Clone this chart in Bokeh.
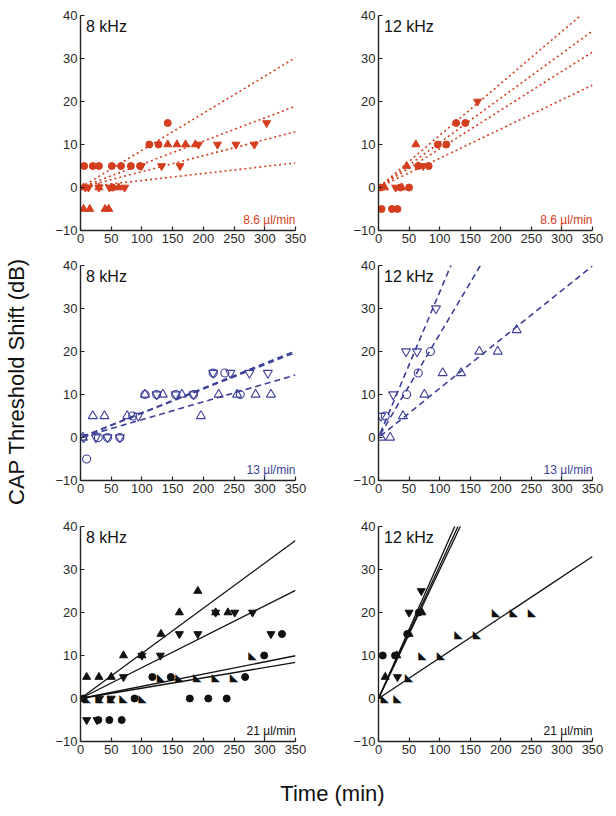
import numpy as np
from bokeh.plotting import figure
from bokeh.models import Range1d, FixedTicker, Label
from bokeh.layouts import row, column
from bokeh.embed import file_html
from bokeh.resources import INLINE
from bokeh.core.properties import value

# ---------------- data ----------------
X_TICKS = [0, 50, 100, 150, 200, 250, 300, 350]
Y_TICKS = [-10, 0, 10, 20, 30, 40]
X_LIM = (0, 350)
Y_LIM = (-10, 40)

FREQ_LEFT = "8 kHz"
FREQ_RIGHT = "12 kHz"
RATES = ["8.6 µl/min", "13 µl/min", "21 µl/min"]
X_LABEL = "Time (min)"
Y_LABEL = "CAP Threshold Shift (dB)"

# Row 1 (8.6 ul/min), 8 kHz
tl_circle_x = [6, 20, 30, 51, 66, 82, 97, 112, 127, 142, 52]
tl_circle_y = [5, 5, 5, 5, 5, 5, 5, 10, 10, 15, 0]
tl_up_x = [5, 15, 40, 46, 5, 30, 62, 142, 157, 171, 187]
tl_up_y = [-5, -5, -5, -5, 0, 0, 0, 10, 10, 10, 10]
tl_down_x = [8, 13, 30, 47, 72, 99, 132, 162, 192, 223, 253, 283, 303]
tl_down_y = [0, 0, 0, 0, 0, 5, 5, 5, 10, 10, 10, 10, 15]
tl_slopes = [0.0863, 0.054, 0.037, 0.0163]

# Row 1, 12 kHz
tr_circle_x = [5, 22, 31, 4, 36, 50, 65, 82, 97, 111, 127, 142]
tr_circle_y = [-5, -5, -5, 0, 0, 0, 5, 5, 10, 10, 15, 15]
tr_up_x = [10, 38, 46, 61]
tr_up_y = [0, 0, 5, 10]
tr_down_x = [28, 73, 162]
tr_down_y = [0, 5, 20]
tr_slopes = [0.121, 0.104, 0.09, 0.068]

# Row 2 (13 ul/min), 8 kHz
ml_circle_x = [10, 29, 44, 64, 85, 105, 124, 155, 184, 216, 235, 260]
ml_circle_y = [-5, 0, 0, 0, 5, 10, 10, 10, 10, 15, 15, 10]
ml_up_x = [4, 20, 39, 76, 105, 134, 165, 196, 225, 255, 285, 310]
ml_up_y = [0, 5, 5, 5, 10, 10, 10, 5, 10, 10, 10, 10]
ml_down_x = [5, 25, 44, 64, 94, 124, 155, 184, 216, 244, 275, 305]
ml_down_y = [0, 0, 0, 0, 5, 10, 10, 10, 15, 15, 15, 15]
ml_slopes = [0.0575, 0.0565, 0.0415]

# Row 2, 12 kHz
mr_circle_x = [11, 46, 65, 85]
mr_circle_y = [5, 10, 15, 20]
mr_up_x = [4, 19, 40, 75, 105, 135, 165, 195, 226]
mr_up_y = [0, 0, 5, 10, 15, 15, 20, 20, 25]
mr_down_x = [4, 24, 45, 63, 94]
mr_down_y = [5, 10, 20, 20, 30]
mr_slopes = [0.338, 0.24, 0.114]

# Row 3 (21 ul/min), 8 kHz
bl_up_x = [10, 30, 50, 70, 100, 131, 161, 191, 220, 240]
bl_up_y = [5, 5, 5, 10, 10, 15, 20, 25, 20, 20]
bl_down_x = [10, 27, 31, 50, 70, 100, 130, 161, 191, 220, 251, 280, 310]
bl_down_y = [-5, -5, 0, 0, 5, 10, 10, 15, 15, 20, 20, 20, 15]
bl_circle_x = [5, 29, 47, 67, 88, 117, 147, 178, 208, 238, 268, 299, 328]
bl_circle_y = [0, -5, -5, -5, 0, 5, 5, 0, 0, 0, 5, 10, 15]
bl_rt_x = [10, 31, 50, 70, 101, 131, 161, 190, 220, 250, 280]
bl_rt_y = [0, 0, 0, 0, 0, 5, 5, 5, 5, 5, 10]
bl_slopes = [0.105, 0.0718, 0.0284, 0.024]

# Row 3, 12 kHz
br_rt_x = [10, 31, 50, 72, 102, 131, 161, 192, 221, 251]
br_rt_y = [0, 0, 5, 10, 10, 15, 15, 20, 20, 20]
br_circle_x = [7, 27, 47, 66]
br_circle_y = [10, 10, 15, 20]
br_down_x = [31, 50, 70]
br_down_y = [5, 20, 25]
br_up_x = [11, 30, 50, 71]
br_up_y = [5, 10, 15, 20]
br_slopes = [0.321, 0.308, 0.299, 0.0943]

# ---------------- styling ----------------
RED = "#d43d1d"
BLUE = "#3b3f98"
BLACK = "#111111"
AXIS = "#222222"
FONT = "Liberation Sans"

LEFT_BORDERS = (40, 15)
RIGHT_BORDERS = (68, 12)
FRAME_W_LEFT = 215
FRAME_W_RIGHT = 214
FRAME_H = 215
ROW_TOPS = [15, 10, 21]
ROW_BOTTOM = 25


def make_panel(col, r, freq, rate, rate_color):
    bl, br = LEFT_BORDERS if col == 0 else RIGHT_BORDERS
    fw = FRAME_W_LEFT if col == 0 else FRAME_W_RIGHT
    top = ROW_TOPS[r]
    p = figure(width=bl + fw + br, height=top + FRAME_H + ROW_BOTTOM,
               x_range=Range1d(*X_LIM), y_range=Range1d(*Y_LIM),
               output_backend="svg", toolbar_location=None,
               min_border_left=bl, min_border_right=br,
               min_border_top=top, min_border_bottom=ROW_BOTTOM)
    p.grid.visible = False
    p.outline_line_color = None
    p.background_fill_color = "white"
    p.border_fill_color = "white"
    p.xaxis.ticker = FixedTicker(ticks=X_TICKS)
    p.yaxis.ticker = FixedTicker(ticks=Y_TICKS)
    for ax in (p.xaxis[0], p.yaxis[0]):
        ax.axis_line_color = AXIS
        ax.axis_line_width = 1.4
        ax.major_tick_line_color = AXIS
        ax.major_tick_line_width = 1.2
        ax.major_tick_in = 4
        ax.major_tick_out = 0
        ax.minor_tick_line_color = None
        ax.major_label_text_font = FONT
        ax.major_label_text_font_size = "13px"
        ax.major_label_text_color = "#2a2a2a"
        ax.major_label_standoff = 3
    p.add_layout(Label(x=9, y=37.4, text=freq, text_font=FONT,
                       text_font_size="16px", text_color=BLACK,
                       text_baseline="middle", text_align="left"))
    p.add_layout(Label(x=350, y=-7.5, text=rate, text_font=FONT,
                       text_font_size="12px", text_color=rate_color,
                       text_baseline="middle", text_align="right"))
    return p


def fit_lines(p, slopes, x0, color, dash, width):
    for s in slopes:
        xs = np.array([x0, X_LIM[1]], dtype=float)
        p.line(xs, s * xs, line_color=color, line_dash=dash, line_width=width)


def markers(p, xs, ys, marker, color, filled, size):
    if filled:
        p.scatter(xs, ys, marker=marker, size=size, fill_color=color,
                  line_color=color, line_width=1)
    else:
        p.scatter(xs, ys, marker=marker, size=size, fill_color=None,
                  line_color=color, line_width=1.1)


def right_tri(p, xs, ys, color):
    p.text(xs, ys, text=["◣"] * len(xs), text_font=value("DejaVu Sans"),
           text_font_size=value("11px"), text_color=color,
           text_align="center", text_baseline="middle")


# Row 1
tl = make_panel(0, 0, FREQ_LEFT, RATES[0], RED)
fit_lines(tl, tl_slopes, 8, RED, "2 3", 1.6)
markers(tl, tl_circle_x, tl_circle_y, "circle", RED, True, 7)
markers(tl, tl_up_x, tl_up_y, "triangle", RED, True, 8)
markers(tl, tl_down_x, tl_down_y, "inverted_triangle", RED, True, 8)

tr = make_panel(1, 0, FREQ_RIGHT, RATES[0], RED)
fit_lines(tr, tr_slopes, 8, RED, "2 3", 1.6)
markers(tr, tr_circle_x, tr_circle_y, "circle", RED, True, 7)
markers(tr, tr_up_x, tr_up_y, "triangle", RED, True, 8)
markers(tr, tr_down_x, tr_down_y, "inverted_triangle", RED, True, 8)

# Row 2
ml = make_panel(0, 1, FREQ_LEFT, RATES[1], BLUE)
fit_lines(ml, ml_slopes, 3, BLUE, "6 4", 1.6)
markers(ml, ml_circle_x, ml_circle_y, "circle", BLUE, False, 8)
markers(ml, ml_up_x, ml_up_y, "triangle", BLUE, False, 9)
markers(ml, ml_down_x, ml_down_y, "inverted_triangle", BLUE, False, 9)

mr = make_panel(1, 1, FREQ_RIGHT, RATES[1], BLUE)
fit_lines(mr, mr_slopes, 3, BLUE, "6 4", 1.6)
markers(mr, mr_circle_x, mr_circle_y, "circle", BLUE, False, 8)
markers(mr, mr_up_x, mr_up_y, "triangle", BLUE, False, 9)
markers(mr, mr_down_x, mr_down_y, "inverted_triangle", BLUE, False, 9)

# Row 3
bl3 = make_panel(0, 2, FREQ_LEFT, RATES[2], BLACK)
fit_lines(bl3, bl_slopes, 0, BLACK, "solid", 1.3)
markers(bl3, bl_circle_x, bl_circle_y, "circle", BLACK, True, 7)
markers(bl3, bl_up_x, bl_up_y, "triangle", BLACK, True, 8)
markers(bl3, bl_down_x, bl_down_y, "inverted_triangle", BLACK, True, 8)
right_tri(bl3, bl_rt_x, bl_rt_y, BLACK)

br3 = make_panel(1, 2, FREQ_RIGHT, RATES[2], BLACK)
fit_lines(br3, br_slopes, 0, BLACK, "solid", 1.3)
markers(br3, br_circle_x, br_circle_y, "circle", BLACK, True, 7)
markers(br3, br_up_x, br_up_y, "triangle", BLACK, True, 8)
markers(br3, br_down_x, br_down_y, "inverted_triangle", BLACK, True, 8)
right_tri(br3, br_rt_x, br_rt_y, BLACK)

# Axis-label strips
YLAB_W = 40
GRID_H = sum(t + FRAME_H + ROW_BOTTOM for t in ROW_TOPS)
ylab = figure(width=YLAB_W, height=GRID_H, x_range=Range1d(0, YLAB_W),
              y_range=Range1d(GRID_H, 0), output_backend="svg",
              toolbar_location=None, x_axis_type=None, y_axis_type=None,
              min_border=0)
ylab.grid.visible = False
ylab.outline_line_color = None
ylab.add_layout(Label(x=16, y=381, text=Y_LABEL, angle=np.pi / 2,
                      text_font=FONT, text_font_size="22px",
                      text_color=BLACK, text_align="center",
                      text_baseline="middle"))

TOTAL_W = YLAB_W + sum(LEFT_BORDERS) + FRAME_W_LEFT + sum(RIGHT_BORDERS) + FRAME_W_RIGHT
XLAB_H = 40
xlab = figure(width=TOTAL_W, height=XLAB_H, x_range=Range1d(0, TOTAL_W),
              y_range=Range1d(XLAB_H, 0), output_backend="svg",
              toolbar_location=None, x_axis_type=None, y_axis_type=None,
              min_border=0)
xlab.grid.visible = False
xlab.outline_line_color = None
xlab.add_layout(Label(x=332, y=27, text=X_LABEL, text_font=FONT,
                      text_font_size="22px", text_color=BLACK,
                      text_align="center", text_baseline="middle"))

layout = column(row(ylab, column(tl, ml, bl3), column(tr, mr, br3)), xlab)

open("out.html", "w").write(file_html(layout, INLINE))
